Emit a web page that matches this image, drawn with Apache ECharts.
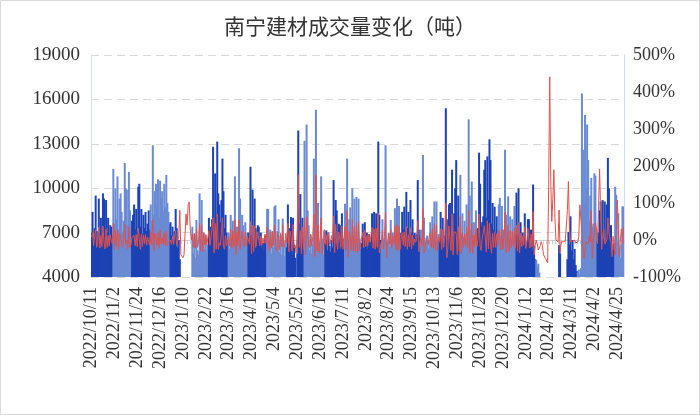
<!DOCTYPE html>
<html><head><meta charset="utf-8">
<script src="https://cdn.jsdelivr.net/npm/echarts@6/dist/echarts.min.js"></script>
<style>html,body{margin:0;padding:0;background:#fff}#c{width:700px;height:415px}</style>
</head><body><div id="c"></div>
<script>
// tick label dates (every 22nd category)
const tickDates = ['2022/10/11','2022/11/2','2022/11/24','2022/12/16','2023/1/10','2023/2/22','2023/3/16','2023/4/10','2023/5/4','2023/5/25','2023/6/16','2023/7/11','2023/8/2','2023/8/24','2023/9/15','2023/10/13','2023/11/6','2023/11/28','2023/12/20','2024/1/12','2024/2/18','2024/3/11','2024/4/2','2024/4/25'];
// lengths of the alternating shaded periods
const periodLengths = [21,18,18,19,14,23,19,19,18,19,17,20,19,16,19,19,19,18,20,17,19,18,19,18,22,19,17,9];
// daily volume (tons)
const volume = [
7000,8400,6600,7300,9500,7100,6400,9300,6900,8000,6200,9650,9300,6800,9200,7000,8000,6500,7500,7400,6800,
11300,7600,10000,7900,10800,7200,9300,9650,8400,7000,7800,11700,10000,9900,7500,11100,8500,7300,
7800,8200,8900,7200,8600,7000,10100,10300,7400,8600,6900,8200,7300,8400,7100,7600,8500,7200,
8900,7800,12900,8200,9800,10300,8800,10600,8000,10500,9300,9800,8500,10300,8700,10900,9000,8400,7600,
7700,6800,7400,6500,7100,8600,7300,6000,6500,5200,3600,2800,3000,2400,
2000,3500,2600,1800,2500,3000,3800,7400,5600,6900,5300,7850,5800,5500,9650,6000,9200,5700,7000,5900,6800,5800,6200,
8000,6900,7400,7900,12800,7600,11000,8100,13150,9650,8900,7700,9200,12000,9800,7300,8200,7000,6500,
7000,5900,8200,6100,7800,6300,10800,6000,7400,6200,12700,9300,6400,8200,7500,6100,7700,6300,7000,
7000,6200,11450,6800,9900,6500,9300,7300,6100,7500,7400,6300,7000,6000,6300,5800,6800,6200,
8600,8600,5800,7200,5600,7050,6000,8750,8850,5900,7100,7900,5700,6800,5500,7950,6200,5400,6500,
6000,8900,5800,7300,8050,5500,8000,6200,5300,3600,5600,13900,7600,9600,5800,8000,6000,
13200,6800,14300,8500,7500,5800,6800,5600,6200,12000,6500,15300,6000,9000,5700,6400,10800,6600,5500,7100,
6300,7150,5800,7000,6100,5700,6500,6000,10550,6400,9200,8500,6200,7600,7500,5900,8300,6100,6600,
8950,6300,12000,6500,7900,8700,6200,10000,6800,9300,6400,9400,6000,9300,6600,5900,
6300,7600,6000,7700,6200,7000,5900,6900,6400,6100,8300,6500,8400,6300,8300,6700,13150,8200,6500,
6200,7900,6000,6600,12900,6400,5900,7000,6100,7850,6300,7000,6200,8650,6500,9300,6400,8800,6600,
7000,8400,7200,8750,7100,9750,7300,8400,6900,9200,7000,7900,6800,7000,6600,6900,10550,7200,6800,
7200,6100,12250,8000,6000,6400,6800,5900,6500,7700,6200,8100,6300,9100,6500,9100,6400,6900,
6500,8400,6200,8000,6300,6800,15400,7900,6400,8900,9000,6600,11250,6800,8300,10000,11900,7000,9500,6600,
10900,6900,8300,6700,7800,6600,8900,7000,14650,9500,7200,10450,6800,7700,6500,8500,7000,
7300,12400,10300,7400,7700,8100,11250,11900,8000,12150,9200,13300,11900,7600,9000,7200,8750,7000,8100,
7000,8900,9350,6800,8800,6600,7200,12600,8200,6700,9450,6500,8100,6400,7900,6600,8800,6900,
9700,6800,10000,6500,7700,6300,7000,6100,8300,6400,6000,7900,7900,6200,7200,5800,10250,6100,5200,
5150,4700,4900,4300,3500,2800,2200,2600,1800,1400,900,600,3200,2900,3600,2400,3100,3400,
3000,2500,3200,3600,6150,5600,3800,3500,3300,3900,3600,3700,5200,7050,6200,8100,5800,6500,5200,5900,4800,4400,
4300,4500,4200,4600,16400,12600,9000,14950,10000,14300,11900,7800,9500,10700,7400,7600,11000,10850,7200,
6400,7000,8500,9100,6300,9200,6600,9100,6200,8900,12050,10000,6500,7500,6100,5800,6300,
10100,9550,6400,8300,6000,5300,6200,8770,8770
];
// change (%)
const change = [
8,20,-15,10,28,-20,-8,35,-22,12,-18,38,-5,-24,30,-20,12,-16,14,0,-10,
45,-25,25,-18,30,-25,18,5,-12,-20,10,42,-12,0,-24,36,-20,-12,
8,5,12,-16,15,-18,32,3,-25,16,-18,14,-10,15,-14,8,12,-15,
22,-12,55,-30,18,6,-14,20,-22,28,-10,6,-12,20,-15,25,-16,-6,-10,
0,-12,10,-12,8,25,-15,-18,10,80,-40,-45,-48,-40,
-42,70,40,95,103,30,0,15,-20,18,-22,30,-20,-5,45,-30,40,-32,20,-14,15,-12,6,
25,-14,8,6,60,-35,45,-25,70,-25,-8,-14,18,60,-18,-25,12,-15,-6,
8,-16,30,-22,25,-18,55,-40,20,-15,55,-25,-30,25,-8,-18,22,-16,10,
0,-10,50,-38,40,-32,38,-20,-16,22,0,-15,10,-14,5,-8,16,-10,
35,0,-30,22,-22,24,-15,40,2,-32,20,12,-26,18,-18,40,-20,-12,18,
-8,45,-32,25,10,-30,42,-22,-15,-35,30,176,-20,25,-38,35,-25,
60,-40,63,20,-12,-20,16,-16,10,70,-45,176,-30,40,-35,12,60,-38,-16,28,
-12,14,-18,20,-12,-6,12,-8,65,-35,42,-8,-25,22,0,-20,38,-25,8,
35,-28,80,-45,22,10,-28,55,-30,36,-30,45,-35,50,-28,-10,
6,20,-20,26,-18,12,-15,16,-6,-5,34,-22,30,-25,32,-20,73,-35,-20,
-5,26,-24,10,75,-48,-8,18,-12,28,-20,12,-12,38,-25,42,-30,36,-25,
5,20,-14,22,-18,36,-25,15,-18,33,-24,13,-14,3,-6,5,52,-32,-6,
6,-15,85,-35,-25,6,6,-13,10,18,-20,30,-22,44,-28,40,-30,8,
-6,30,-26,28,-20,8,100,-48,-20,38,2,-28,70,-40,22,20,20,-40,36,-30,
65,-37,20,-20,16,-15,35,-22,80,-35,-24,45,-35,14,-16,30,-18,
4,70,-17,-28,4,5,39,6,-33,52,-24,45,-10,-36,18,-20,22,-20,16,
-14,27,5,-27,29,-25,9,75,-35,-18,41,-31,25,-21,23,-16,33,-22,
40,-30,47,-35,18,-18,11,-13,36,-23,-6,32,0,-22,16,-19,77,-40,-15,
0,-10,-27,-30,-15,-5,-15,-40,-45,-50,-55,-62,150,441,160,50,110,190,
60,0,5,-5,81,-35,-5,-8,-5,-6,-3,-8,80,158,30,-5,-10,-3,-5,0,-8,-10,
-5,10,95,90,20,-20,-50,-30,-5,0,-10,10,-5,80,-50,-5,20,45,30,
-10,90,192,81,-25,10,30,-10,-15,0,60,20,5,-5,-45,10,-20,
-40,20,108,40,-45,0,30,-10,36
];
const yLeftTicks = {min:4000, max:19000, step:3000};
const yRightTicks = {min:-100, max:500, step:100};

// build categories: consecutive days from each tick date
function fmt(d){return d.getFullYear()+'/'+(d.getMonth()+1)+'/'+d.getDate();}
const categories = [];
for (let k=0;k<tickDates.length;k++){
  const p = tickDates[k].split('/').map(Number);
  for (let i=0;i<22 && categories.length<volume.length;i++){
    categories.push(fmt(new Date(p[0],p[1]-1,p[2]+i)));
  }
}
const DARK='#1c42b4', LIGHT='#6a8bd3';
const barData=[]; let idx=0;
periodLengths.forEach((len,pi)=>{for(let j=0;j<len;j++){barData.push({value:volume[idx],itemStyle:{color:pi%2===0?DARK:LIGHT}});idx++;}});

const FONT='Liberation Serif';
const chart = echarts.init(document.getElementById('c'),null,{renderer:'canvas'});
chart.setOption({
  animation:false,
  backgroundColor:'#fff',
  title:{text:'南宁建材成交量变化（吨）',left:'center',top:11,textStyle:{fontFamily:'Noto Sans CJK SC',fontSize:21,fontWeight:'normal',color:'#333333'}},
  graphic:[{type:'rect',shape:{x:0.5,y:0.5,width:699,height:414},style:{fill:'none',stroke:'#d9d9d9',lineWidth:1},silent:true}],
  grid:{left:91,right:76,top:55,bottom:138},
  xAxis:{type:'category',data:categories,boundaryGap:true,
    axisLine:{lineStyle:{color:'#d0d0d0'}},
    axisTick:{show:true,interval:2,length:4,lineStyle:{color:'#d0d0d0'}},
    axisLabel:{interval:21,rotate:90,margin:10,fontFamily:FONT,fontSize:18,color:'#333333'}},
  yAxis:[
    {type:'value',min:yLeftTicks.min,max:yLeftTicks.max,interval:yLeftTicks.step,
     axisLine:{show:true,lineStyle:{color:'#d6dbe8'}},axisTick:{show:false},
     splitLine:{show:true,lineStyle:{color:'#d9d9d9',type:[8,5]}},
     axisLabel:{margin:11,formatter:v=>String(v),fontFamily:FONT,fontSize:19,color:'#333333'}},
    {type:'value',min:yRightTicks.min,max:yRightTicks.max,interval:yRightTicks.step,
     axisLine:{show:true,lineStyle:{color:'#d6dbe8'}},axisTick:{show:false},splitLine:{show:false},
     axisLabel:{margin:9,formatter:'{value}%',fontFamily:FONT,fontSize:18,color:'#333333'}}
  ],
  series:[
    {type:'bar',data:barData,yAxisIndex:0,barWidth:2,barGap:'-100%'},
    {type:'line',data:change,yAxisIndex:1,symbol:'none',lineStyle:{color:'#e0504c',width:1},z:5}
  ]
});
</script></body></html>
